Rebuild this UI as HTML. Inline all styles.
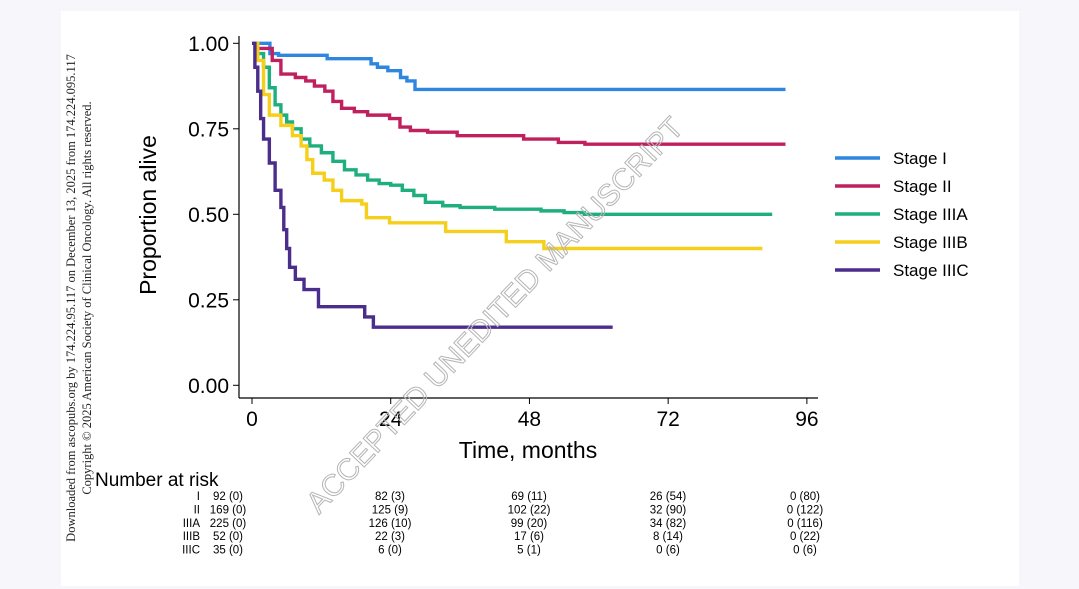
<!DOCTYPE html>
<html><head><meta charset="utf-8"><style>
body{margin:0;background:#f7f7fb;}
svg{display:block;font-family:"Liberation Sans",sans-serif;}
</style></head><body>
<svg width="1079" height="589" viewBox="0 0 1079 589">
<rect x="61" y="11" width="958" height="575" fill="#fff"/>
<g font-family="Liberation Serif,serif" font-size="12.5" fill="#222">
<text transform="translate(75,298) rotate(-90)" text-anchor="middle">Downloaded from ascopubs.org by 174.224.95.117 on December 13, 2025 from 174.224.095.117</text>
<text transform="translate(91,298) rotate(-90)" text-anchor="middle">Copyright © 2025 American Society of Clinical Oncology. All rights reserved.</text>
</g>
<g id="axes"></g>
<g id="curves"></g>
<g id="legend"></g>
<g id="risk"></g>
<text transform="translate(502,322) rotate(-46.5)" text-anchor="middle" font-size="30" fill="none" stroke="#b5b5b5" stroke-width="1">ACCEPTED UNEDITED MANUSCRIPT</text>
</svg>
<script>
const stages=["Stage I","Stage II","Stage IIIA","Stage IIIB","Stage IIIC"];
const colors=["#2f86e0","#c0215e","#1faf7d","#f5cf1c","#4b2d8c"];
const tI=[0,3.1,4.6,13,20.6,21.7,23.5,25.7,26.8,28.2,92.3];
const sI=[1,0.97,0.965,0.955,0.94,0.93,0.92,0.90,0.89,0.865,0.865];
const tII=[0,1,3.5,5,7.5,9.3,10.8,12.6,14,15.5,17.7,20,23.8,25.6,27.4,30.4,35.5,47,53,57.6,92.3];
const sII=[1,0.985,0.95,0.91,0.90,0.89,0.875,0.86,0.83,0.81,0.80,0.79,0.78,0.755,0.745,0.74,0.73,0.72,0.71,0.705,0.705];
const tIIIA=[0,1,2,3,4,5,6,7,8.5,10,12,14,16,18,20,22,24,26,28,30,33,36,42,50,54,57.5,90];
const sIIIA=[1,0.97,0.93,0.87,0.82,0.79,0.77,0.75,0.72,0.70,0.68,0.655,0.63,0.615,0.60,0.59,0.585,0.57,0.555,0.535,0.525,0.52,0.515,0.51,0.505,0.50,0.50];
const tIIIB=[0,1,2,3,5,7,8.5,9.5,10.5,12.5,14,15.5,19,19.8,23.8,33.5,44,50.5,88.3];
const sIIIB=[1,0.95,0.85,0.79,0.76,0.73,0.70,0.66,0.62,0.60,0.57,0.54,0.53,0.49,0.475,0.45,0.42,0.40,0.40];
const tIIIC=[0,0.5,1,1.5,2,3,4,5,5.5,6,6.5,7.5,9,11.5,19.5,21,62.4];
const sIIIC=[1,0.93,0.86,0.78,0.72,0.65,0.57,0.52,0.455,0.40,0.345,0.31,0.28,0.23,0.20,0.17,0.17];
const xTicks=[0,24,48,72,96];
const yTicks=[0,0.25,0.5,0.75,1];
const riskRows=["I","II","IIIA","IIIB","IIIC"];
const riskVals=[["92 (0)","82 (3)","69 (11)","26 (54)","0 (80)"],["169 (0)","125 (9)","102 (22)","32 (90)","0 (122)"],["225 (0)","126 (10)","99 (20)","34 (82)","0 (116)"],["52 (0)","22 (3)","17 (6)","8 (14)","0 (22)"],["35 (0)","6 (0)","5 (1)","0 (6)","0 (6)"]];
const series=[[tI,sI],[tII,sII],[tIIIA,sIIIA],[tIIIB,sIIIB],[tIIIC,sIIIC]];
const X=t=>252+t*5.78, Y=s=>385.3-s*342;
const NS="http://www.w3.org/2000/svg";
function mk(tag,attrs,parent,txt){const e=document.createElementNS(NS,tag);for(const k in attrs)e.setAttribute(k,attrs[k]);if(txt!==undefined)e.textContent=txt;parent.appendChild(e);return e;}
const ax=document.getElementById('axes');
let l=mk('line',{x1:239,y1:36,x2:239,y2:398,stroke:"#000","stroke-width":1.2},ax);


l=mk('line',{x1:239,y1:398,x2:818,y2:398,stroke:"#000","stroke-width":1.2},ax);


yTicks.forEach(v=>{mk('line',{x1:233,x2:239,y1:Y(v),y2:Y(v),stroke:"#000"},ax);
let t=mk('text',{x:229,y:Y(v)+7.5,"text-anchor":"end","font-size":21},ax,v.toFixed(2));

});
xTicks.forEach(v=>{mk('line',{x1:X(v),x2:X(v),y1:398,y2:404,stroke:"#000"},ax);
let t=mk('text',{x:X(v),y:426,"text-anchor":"middle","font-size":21},ax,String(v));

});
let tt=mk('text',{x:528,y:458,"text-anchor":"middle","font-size":23},ax,"Time, months");


tt=mk('text',{transform:"translate(156,215) rotate(-90)","text-anchor":"middle","font-size":23},ax,"Proportion alive");


const cv=document.getElementById('curves');
series.forEach(([ts,ss],i)=>{let d=`M${X(ts[0])},${Y(ss[0])}`;for(let k=1;k<ts.length;k++){d+=`H${X(ts[k])}V${Y(ss[k])}`;}
const p=mk('path',{d:d,fill:"none",stroke:colors[i],"stroke-width":3.4},cv);

});
const lg=document.getElementById('legend');
stages.forEach((s,i)=>{const y=158+i*28;
const g=mk('g',{},lg);


mk('line',{x1:835,x2:880,y1:y,y2:y,stroke:colors[i],"stroke-width":3.5},g);
mk('text',{x:893,y:y+6,"font-size":17},g,s);});
const rk=document.getElementById('risk');
let h=mk('text',{x:95,y:486,"font-size":19},rk,"Number at risk");


riskRows.forEach((r,i)=>{const y=500+i*13.4;
const lab=mk('text',{x:200,y:y,"text-anchor":"end","font-size":11.5},rk,r);


riskVals[i].forEach((v,j)=>{const cx=j===0?228:[0,390,529,668,805][j];
const t=mk('text',{x:cx,y:y,"text-anchor":"middle","font-size":11.5},rk,v);

});});
</script>
</body></html>
